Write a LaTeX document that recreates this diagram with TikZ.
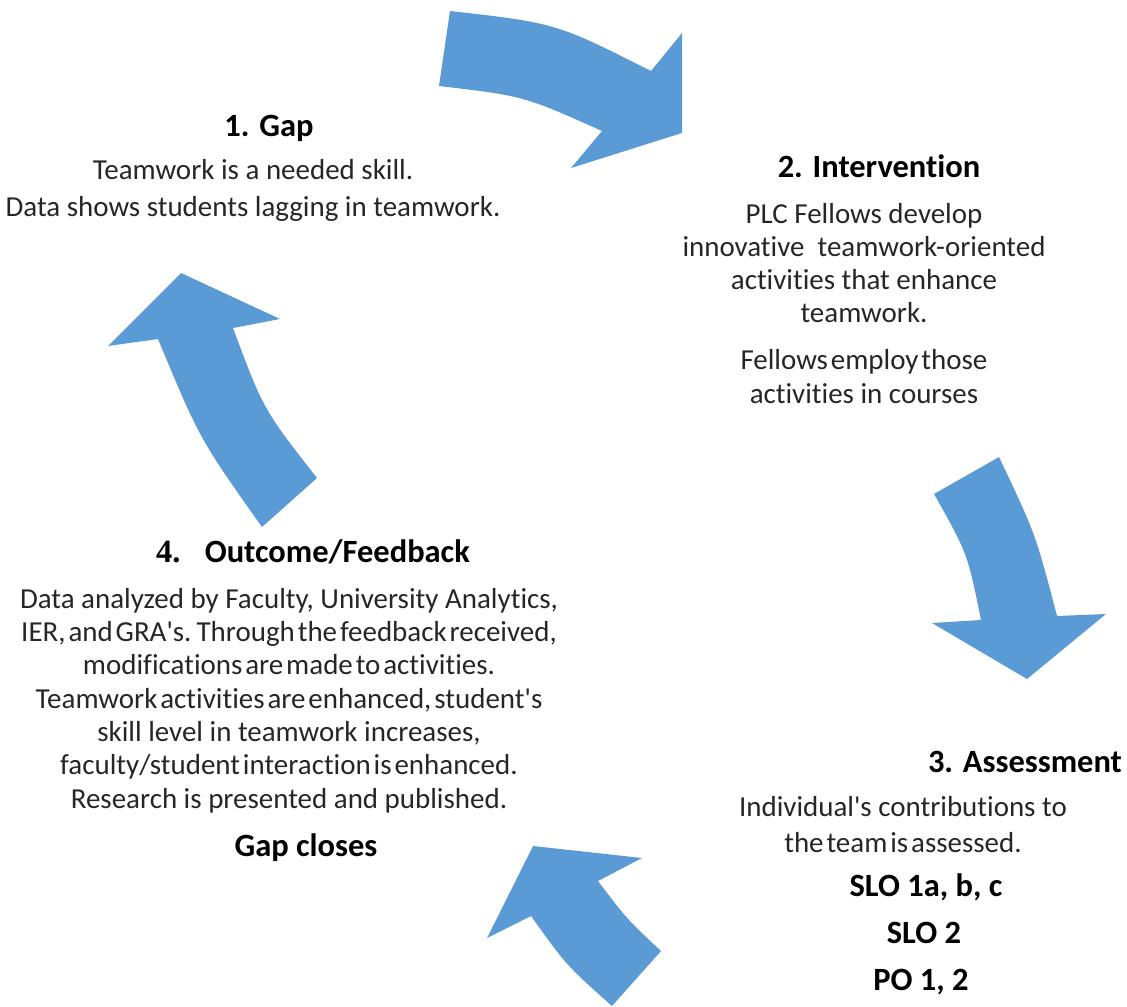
\documentclass[tikz,border=0pt]{standalone}
\usepackage{fontspec}
\setmainfont{Carlito}[Ligatures=NoCommon]
\newfontfamily\numfont{Liberation Serif}
\usepackage{tikz}
\definecolor{cycleblue}{RGB}{91,155,213}
\definecolor{bodytext}{RGB}{38,38,38}
\newcommand{\tightline}[1]{{\spaceskip=0.1em\relax #1}}
\tikzstyle{head} = [anchor=base, inner sep=0pt, font=\fontsize{23.1}{27}\selectfont\bfseries]
\tikzstyle{body} = [anchor=base, inner sep=0pt, align=center, text=bodytext, font=\fontsize{20.6}{23.5}\selectfont]
\tikzstyle{cyclearrow} = [fill=cycleblue, draw=none]

\begin{document}
\begin{tikzpicture}[x=0.025cm, y=-0.025cm]
  \useasboundingbox (0,0) rectangle (1127,1007);

  % curved arrows of the cycle
  \fill[cyclearrow] (450,11) .. controls (556,23) .. (651,71) -- (682,33) -- (682,133)
    -- (571,168) -- (602,131) .. controls (524,96) .. (439,86) -- cycle;
  \fill[cyclearrow] (934,494) -- (999,457) .. controls (1035.5,533.8) .. (1057,616)
    -- (1106,614) -- (1027,679) -- (932,623) -- (981,620) .. controls (967.5,553.3) .. (934,494) -- cycle;
  \fill[cyclearrow] (661,951) -- (612,1006) .. controls (566.5,965.5) .. (531,916)
    -- (487,938) -- (533,846) -- (642,858) -- (598,881) .. controls (626.5,918.7) .. (661,951) -- cycle;
  \fill[cyclearrow] (262,527) -- (317,478) .. controls (263.4,409.5) .. (233,328)
    -- (280,319) -- (181,273) -- (108,346) -- (158,339) .. controls (199.5,438.8) .. (262,527) -- cycle;

  % 1. gap (body nodes sit on the baseline of their last line)
  \node (gaphead) [head] at (269,136) {1. Gap};
  \node (gapbody) [body, font=\fontsize{20.6}{26.3}\selectfont] at (253,216)
    {Teamwork is a needed skill.\\Data shows students lagging in teamwork.};

  % 2. intervention
  \node (intvhead) [head] at (879,177) {2. Intervention};
  \node (intvbody) [body] at (864,403)
    {PLC Fellows develop\\innovative\ \ teamwork-oriented\\activities that enhance\\teamwork.\\[10pt]
     \tightline{Fellows employ those}\\activities in courses};

  % 3. assessment
  \node (asshead) [head] at (1025,772) {3. Assessment};
  \node (assbody) [body, font=\fontsize{20.6}{24.9}\selectfont] at (903,852)
    {Individual\textquotesingle s contributions to\\\tightline{the team is assessed.}};
  \node (slo1) [head] at (926,896) {SLO 1a, b, c};
  \node (slo2) [head] at (924,943) {SLO 2};
  \node (po) [head] at (921,990) {PO 1, 2};

  % 4. outcome/feedback
  \node (outhead) [head] at (313,562) {{\numfont 4.}\hspace{0.75em}Outcome/Feedback};
  \node (outbody) [body, font=\fontsize{20.6}{23.7}\selectfont] at (289,808)
    {Data analyzed by Faculty, University Analytics,\\
     \tightline{IER, and GRA\textquotesingle s. Through the feedback received,}\\
     \tightline{modifications are made to activities.}\\
     \tightline{Teamwork activities are enhanced, student\textquotesingle s}\\
     skill level in teamwork increases,\\
     \tightline{faculty/student interaction is enhanced.}\\
     Research is presented and published.};
  \node (gapclose) [head] at (306,856) {Gap closes};
\end{tikzpicture}
\end{document}
